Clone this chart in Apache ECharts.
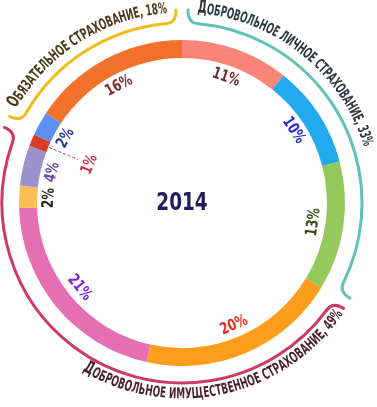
<!DOCTYPE html>
<html>
<head>
<meta charset="utf-8">
<script src="https://cdn.jsdelivr.net/npm/echarts@6/dist/echarts.min.js"></script>
<style>
html, body { margin: 0; padding: 0; background: #fff; }
#chart { width: 377px; height: 407px; }
</style>
</head>
<body>
<div id="chart"></div>
<script>
var year = "2014";
// shares of the ring, clockwise from 12 o'clock (labels show rounded values)
var shares = [10.7, 10.2, 12.8, 19.8, 21.0, 2.2, 4.0, 1.2, 2.4, 15.7];
var sliceColors = ["#fa8478", "#22a9ee", "#94c95b", "#fd9d1c", "#e46fb3",
    "#fbbf55", "#9b91cc", "#dc3a2a", "#5e8ef2", "#f3712b"];
var labelColors = ["#6b2a3a", "#2b2bd0", "#3d4a1e", "#ee2a22", "#7a22e0",
    "#2a2a1a", "#6a4aa8", "#c8324a", "#283a8a", "#7b2d2d"];
// groups of consecutive slices
var groupNames = ["Добровольное личное страхование, 33%",
    "Добровольное имущественное страхование, 49%",
    "Обязательное страхование, 18%"];
var groupSizes = [3, 5, 2];
var groupColors = ["#62c1b7", "#cc3a62", "#f2bb1c"];
var groupTextColors = ["#2c3a3c", "#4a1f2e", "#4b3a1a"];

// layout
var CX = 182, CY = 203;
var R_IN = 145, R_OUT = 163;
var R_LABEL = 133, R_SMALL = 100;
var BR = 180;   // bracket radius
var TR = 193;   // group text radius
var FONT = "'Liberation Sans Narrow', 'DejaVu Sans Condensed', sans-serif";
// where each group caption starts / ends (degrees clockwise from top), flip = read along the bottom
var textSpans = [[4.6, 72.9, false], [210.7, 124.5, true], [299.7, 355.6, false]];

function pt(r, deg) {
    var a = deg * Math.PI / 180;
    return [CX + r * Math.sin(a), CY - r * Math.cos(a)];
}
function zr(deg) { return (deg - 90) * Math.PI / 180; }

var total = shares.reduce(function (s, v) { return s + v; }, 0);
var cum = [0];
shares.forEach(function (v, i) { cum.push(cum[i] + v); });
function toDeg(v) { return v / total * 360; }
function midDeg(i) { return toDeg(cum[i] + shares[i] / 2); }

var small = shares.indexOf(Math.min.apply(null, shares));

var ringData = shares.map(function (v, i) {
    return { value: v, name: "s" + i, itemStyle: { color: sliceColors[i] } };
});

var graphics = [];

// percent labels just inside the ring, written along it
shares.forEach(function (v, i) {
    var th = midDeg(i);
    var p = pt(i === small ? R_SMALL : R_LABEL, th);
    var rot = (th > 90 && th < 270) ? 180 - th : -th;
    graphics.push({
        type: "text", silent: true,
        x: p[0], y: p[1], rotation: rot * Math.PI / 180, scaleX: 0.82,
        style: {
            text: Math.round(v) + "%", font: "bold 16px " + FONT, fill: labelColors[i],
            align: "center", verticalAlign: "middle",
            textAlign: "center", textVerticalAlign: "middle"
        }
    });
});

// dashed pointer for the smallest slice
var sa = midDeg(small);
var q1 = pt(R_IN - 1, sa), q2 = pt(R_SMALL + 13, sa);
graphics.push({
    type: "line", silent: true,
    shape: { x1: q1[0], y1: q1[1], x2: q2[0], y2: q2[1] },
    style: { stroke: labelColors[small], lineWidth: 1, lineDash: [3, 2] }
});

// brackets: an arc with a small outward hook at both ends
var start = 0;
groupSizes.forEach(function (n, g) {
    var a1 = toDeg(cum[start]) + 1.8;
    var a2 = toDeg(cum[start + n]) - 1.8;
    var hk = 3.5;
    var st = { fill: null, stroke: groupColors[g], lineWidth: 3, lineCap: "round" };
    graphics.push({
        type: "arc", silent: true,
        shape: { cx: CX, cy: CY, r: BR, startAngle: zr(a1 + hk), endAngle: zr(a2 - hk), clockwise: true },
        style: st
    });
    [[a1, a1 + hk], [a2, a2 - hk]].forEach(function (e) {
        var tip = pt(BR + 13, e[0]), c = pt(BR, e[0]), end = pt(BR, e[1]);
        graphics.push({
            type: "bezierCurve", silent: true,
            shape: { x1: tip[0], y1: tip[1], cpx1: c[0], cpy1: c[1], x2: end[0], y2: end[1] },
            style: st
        });
    });
    start += n;
});

// curved captions, one glyph at a time, squeezed to fit their span
var ctx = document.createElement("canvas").getContext("2d");
groupNames.forEach(function (name, g) {
    var text = name.toUpperCase();
    var span = textSpans[g];
    var flip = span[2];
    var chars = text.split("");
    var fonts = chars.map(function (c, i) {
        return "bold " + (i === 0 ? 18 : 15) + "px " + FONT;
    });
    var widths = chars.map(function (c, i) {
        ctx.font = fonts[i];
        return ctx.measureText(c).width;
    });
    var W = widths.reduce(function (s, w) { return s + w; }, 0);
    var L = TR * Math.abs(span[1] - span[0]) * Math.PI / 180;
    var k = L / W;
    var s = 0;
    chars.forEach(function (c, i) {
        var mid = s + widths[i] * k / 2;
        s += widths[i] * k;
        var dd = mid / TR * 180 / Math.PI;
        var th = flip ? span[0] - dd : span[0] + dd;
        var r = flip ? TR + 6 : TR - 6;
        var p = pt(r, th);
        var rot = flip ? Math.PI - th * Math.PI / 180 : -th * Math.PI / 180;
        graphics.push({
            type: "text", silent: true,
            x: p[0], y: p[1], rotation: rot, scaleX: k,
            style: {
                text: c, font: fonts[i], fill: groupTextColors[g],
                align: "center", verticalAlign: "bottom",
                textAlign: "center", textVerticalAlign: "bottom"
            }
        });
    });
});

// year in the middle
graphics.push({
    type: "text", silent: true, x: CX, y: CY, scaleX: 0.82,
    style: {
        text: year, font: "bold 25px " + FONT, fill: "#221b5e",
        align: "center", verticalAlign: "middle",
        textAlign: "center", textVerticalAlign: "middle"
    }
});

var chart = echarts.init(document.getElementById("chart"));
chart.setOption({
    animation: false,
    backgroundColor: "#fff",
    series: [{
        type: "pie",
        center: [CX, CY],
        radius: [R_IN, R_OUT],
        startAngle: 90,
        clockwise: true,
        silent: true,
        label: { show: false },
        labelLine: { show: false },
        emphasis: { disabled: true },
        data: ringData
    }],
    graphic: graphics
});
</script>
</body>
</html>
